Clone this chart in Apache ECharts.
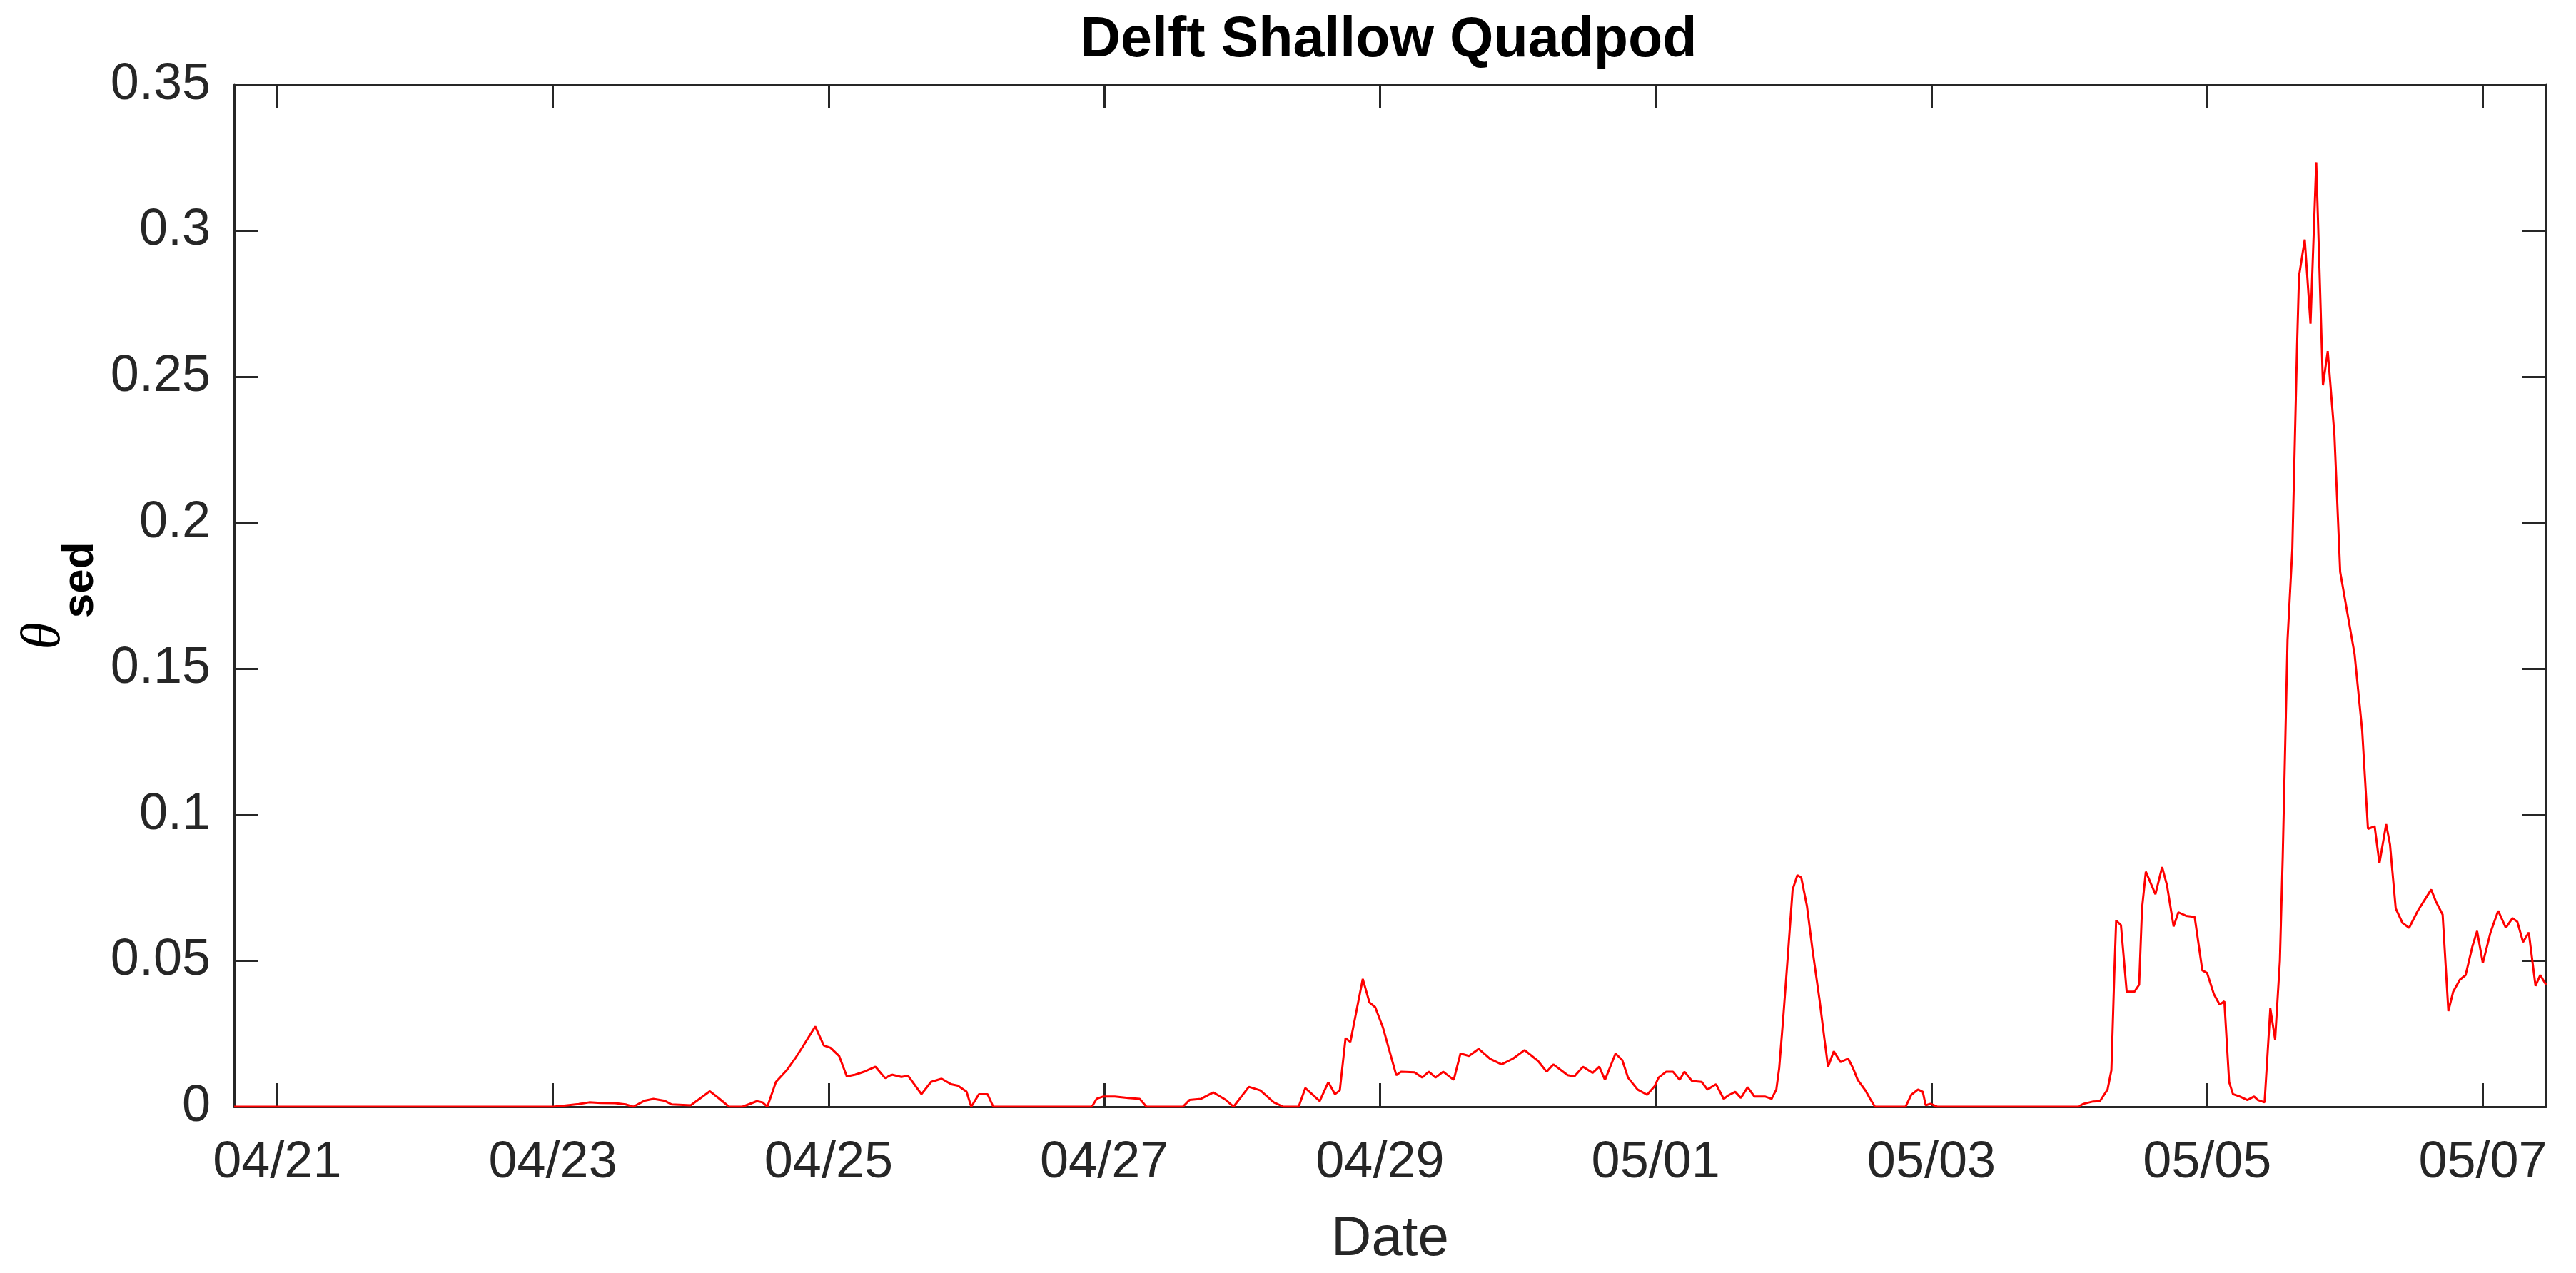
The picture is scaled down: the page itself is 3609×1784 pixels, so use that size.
<!DOCTYPE html>
<html>
<head>
<meta charset="utf-8">
<script src="https://cdn.jsdelivr.net/npm/echarts@6/dist/echarts.min.js"></script>
<style>
  html, body { margin: 0; padding: 0; background: #fff; }
  #chart { width: 3609px; height: 1784px; }
</style>
</head>
<body>
<div id="chart"></div>
<script>
const YEAR = 2019;
const titleText = 'Delft Shallow Quadpod';
const xAxisTitle = 'Date';
const axisStart = '04-20 16:30';
const axisEnd = '05-07 11:00';
const tickDates = ['04-21','04-23','04-25','04-27','04-29','05-01','05-03','05-05','05-07'];
const tickLabels = ['04/21','04/23','04/25','04/27','04/29','05/01','05/03','05/05','05/07'];
const yTicks = [0, 0.05, 0.1, 0.15, 0.2, 0.25, 0.3, 0.35];

const times = [
'04-20 16:30','04-23 00:00','04-23 01:40','04-23 04:30','04-23 06:20','04-23 08:20','04-23 10:50','04-23 12:40','04-23 14:00','04-23 16:00',
'04-23 17:30','04-23 19:30','04-23 20:40','04-24 00:00','04-24 03:20','04-24 04:50','04-24 06:40','04-24 09:00','04-24 11:30','04-24 12:30',
'04-24 13:20','04-24 14:50','04-24 16:40','04-24 18:10','04-24 19:30','04-24 21:40','04-24 23:10','04-25 00:20','04-25 01:50','04-25 03:10',
'04-25 04:40','04-25 06:20','04-25 08:10','04-25 09:50','04-25 11:00','04-25 12:40','04-25 13:50','04-25 16:10','04-25 17:50','04-25 19:40',
'04-25 21:20','04-25 22:30','04-26 00:00','04-26 00:50','04-26 02:10','04-26 03:40','04-26 04:40','04-26 21:50','04-26 22:40','04-26 23:50',
'04-27 01:50','04-27 04:10','04-27 06:10','04-27 07:20','04-27 13:40','04-27 14:50','04-27 16:50','04-27 19:00','04-27 21:10','04-27 22:30',
'04-28 01:10','04-28 03:10','04-28 05:30','04-28 07:10','04-28 09:50','04-28 11:00','04-28 13:30','04-28 15:00','04-28 16:10','04-28 17:00',
'04-28 18:00','04-28 18:50','04-28 21:00','04-28 22:10','04-28 23:10','04-29 00:30','04-29 02:50','04-29 03:40','04-29 06:00','04-29 07:20',
'04-29 08:30','04-29 09:40','04-29 11:00','04-29 12:50','04-29 14:00','04-29 15:30','04-29 17:10','04-29 19:10','04-29 21:10','04-29 23:10',
'04-30 01:10','04-30 03:30','04-30 05:00','04-30 06:10','04-30 08:40','04-30 09:50','04-30 11:20','04-30 13:00','04-30 14:10','04-30 15:10',
'04-30 17:00','04-30 18:10','04-30 19:10','04-30 20:50','04-30 22:30','04-30 23:50','05-01 00:30','05-01 01:50','05-01 03:00','05-01 04:10',
'05-01 05:00','05-01 06:20','05-01 08:00','05-01 09:00','05-01 10:30','05-01 11:50','05-01 12:40','05-01 13:50','05-01 14:50','05-01 16:00',
'05-01 17:10','05-01 19:00','05-01 20:10','05-01 21:00','05-01 21:30','05-01 22:10','05-01 23:00','05-01 23:50','05-02 00:40','05-02 01:20',
'05-02 02:20','05-02 03:20','05-02 04:30','05-02 05:20','05-02 06:00','05-02 07:00','05-02 08:10','05-02 09:30','05-02 10:20','05-02 11:10',
'05-02 12:30','05-02 13:20','05-02 14:10','05-02 19:30','05-02 20:30','05-02 21:40','05-02 22:30','05-02 23:00','05-02 23:50','05-03 01:00',
'05-04 01:30','05-04 02:30','05-04 04:10','05-04 05:20','05-04 06:40','05-04 07:20','05-04 07:50','05-04 08:10','05-04 09:00','05-04 10:00',
'05-04 11:20','05-04 12:10','05-04 12:40','05-04 13:20','05-04 15:00','05-04 16:10','05-04 17:00','05-04 18:10','05-04 19:00','05-04 20:20',
'05-04 21:50','05-04 23:10','05-05 00:00','05-05 01:10','05-05 02:10','05-05 03:00','05-05 03:50','05-05 04:30','05-05 05:40','05-05 07:00',
'05-05 08:10','05-05 08:50','05-05 10:00','05-05 11:00','05-05 11:50','05-05 12:40','05-05 13:10','05-05 14:00','05-05 14:50','05-05 15:40',
'05-05 16:00','05-05 17:00','05-05 18:00','05-05 19:00','05-05 20:10','05-05 21:00','05-05 22:10','05-05 23:10','05-06 01:40','05-06 03:00',
'05-06 04:00','05-06 05:10','05-06 06:00','05-06 07:10','05-06 07:50','05-06 08:50','05-06 10:00','05-06 11:10','05-06 12:40','05-06 15:00',
'05-06 15:50','05-06 17:00','05-06 18:00','05-06 18:50','05-06 20:00','05-06 21:00','05-06 22:10','05-06 23:00','05-07 00:00','05-07 01:20',
'05-07 02:40','05-07 04:00','05-07 05:10','05-07 06:00','05-07 07:00','05-07 08:00','05-07 09:10','05-07 10:00','05-07 11:00'
];

const theta = [
0,0,0.0003,0.0009,0.0015,0.0013,0.0012,0.0008,0,0.0021,
0.0027,0.002,0.0008,0.0005,0.0053,0.003,0,0,0.0019,0.0015,
0,0.0085,0.0124,0.0165,0.0206,0.0275,0.021,0.0202,0.0174,0.0104,
0.011,0.0121,0.0137,0.0098,0.011,0.0102,0.0106,0.0043,0.0085,0.0096,
0.0077,0.0072,0.0052,0,0.0043,0.0043,0,0,0.0027,0.0035,
0.0035,0.003,0.0027,0,0,0.0023,0.0027,0.0049,0.0023,0,
0.0068,0.0056,0.0015,0,0,0.0064,0.0019,0.0084,0.0043,0.0056,
0.0235,0.0222,0.0438,0.0357,0.0341,0.0272,0.0108,0.012,0.0118,0.01,
0.012,0.01,0.012,0.0092,0.0182,0.0174,0.0198,0.0164,0.0145,0.0165,
0.0194,0.0157,0.012,0.0145,0.0108,0.0104,0.0137,0.0116,0.0137,0.0092,
0.0182,0.016,0.01,0.0059,0.0041,0.0071,0.01,0.012,0.012,0.0092,
0.012,0.0088,0.0085,0.0059,0.0077,0.0027,0.0039,0.0051,0.003,0.0067,
0.0035,0.0035,0.0027,0.0059,0.0133,0.0296,0.0516,0.0744,0.0793,0.0785,
0.0687,0.0532,0.0369,0.0238,0.0137,0.019,0.0153,0.0165,0.0133,0.0092,
0.0056,0.0027,0,0,0.0041,0.0059,0.0051,0.0005,0.001,0,
0,0.001,0.0018,0.0019,0.0059,0.0125,0.045,0.0638,0.0622,0.0394,
0.0394,0.0418,0.0679,0.0805,0.0728,0.0821,0.076,0.0618,0.0666,0.0654,
0.065,0.0467,0.0458,0.0386,0.035,0.0361,0.0084,0.0043,0.0035,0.0023,
0.0035,0.0023,0.0015,0.0337,0.023,0.05,0.0858,0.1598,0.191,0.2611,
0.2845,0.297,0.2682,0.3235,0.2471,0.2588,0.23,0.1832,0.1551,0.1287,
0.0952,0.096,0.0834,0.0968,0.0899,0.0679,0.063,0.0613,0.0671,0.0744,
0.0703,0.0658,0.0328,0.0394,0.0435,0.0451,0.0548,0.0602,0.0492,0.0597,
0.0671,0.0613,0.0646,0.0634,0.0564,0.0597,0.0414,0.0451,0.0418
];

function toTime(s) {
  const parts = s.split(' ');
  const md = parts[0].split('-').map(Number);
  const hm = (parts[1] || '00:00').split(':').map(Number);
  return new Date(YEAR, md[0] - 1, md[1], hm[0], hm[1]).getTime();
}

const seriesData = times.map((t, i) => [toTime(t), theta[i]]);
const tickValues = tickDates.map(toTime);
const xMin = toTime(axisStart);
const xMax = toTime(axisEnd);

const axisColor = '#262626';
const tickFont = { fontFamily: 'Liberation Sans, Arial, sans-serif', fontSize: 72, color: axisColor };

function xLabel(v) {
  let best = 0, bd = Infinity;
  tickValues.forEach((tv, i) => { const d = Math.abs(tv - v); if (d < bd) { bd = d; best = i; } });
  return bd < 3600000 ? tickLabels[best] : '';
}

const chart = echarts.init(document.getElementById('chart'), null, { renderer: 'canvas' });
chart.setOption({
  animation: false,
  backgroundColor: '#ffffff',
  title: {
    text: titleText,
    left: 1513,
    top: 18,
    padding: 0,
    textStyle: { fontFamily: 'Liberation Sans, Arial, sans-serif', fontWeight: 'bold', fontSize: 79, color: '#000000' }
  },
  grid: { left: 328, right: 42, top: 119, bottom: 233, containLabel: false },
  xAxis: [
    {
      type: 'value', position: 'bottom', min: xMin, max: xMax, scale: true,
      name: xAxisTitle, nameLocation: 'middle', nameGap: 147,
      nameTextStyle: { fontFamily: 'Liberation Sans, Arial, sans-serif', fontSize: 78, color: axisColor },
      axisLine: { show: true, onZero: false, lineStyle: { color: axisColor, width: 3 } },
      axisTick: { show: true, inside: true, length: 33, customValues: tickValues, lineStyle: { color: axisColor, width: 3 } },
      axisLabel: Object.assign({ show: true, margin: 43, customValues: tickValues, formatter: xLabel, hideOverlap: false }, tickFont),
      splitLine: { show: false }
    },
    {
      type: 'value', position: 'top', min: xMin, max: xMax, scale: true,
      axisLine: { show: true, onZero: false, lineStyle: { color: axisColor, width: 3 } },
      axisTick: { show: true, inside: true, length: 33, customValues: tickValues, lineStyle: { color: axisColor, width: 3 } },
      axisLabel: { show: false },
      splitLine: { show: false }
    }
  ],
  yAxis: [
    {
      type: 'value', position: 'left', min: 0, max: 0.35, interval: 0.05,
      name: '{th|θ}{sub|sed}', nameLocation: 'middle', nameRotate: 90, nameGap: 222,
      nameTextStyle: {
        color: '#000000',
        rich: {
          th: { fontFamily: 'Liberation Serif, DejaVu Serif, serif', fontStyle: 'italic', fontSize: 78, lineHeight: 80, verticalAlign: 'top', color: '#000000' },
          sub: { fontFamily: 'Liberation Sans, Arial, sans-serif', fontWeight: 'bold', fontSize: 62, lineHeight: 62, padding: [58, 0, 0, 6], verticalAlign: 'top', color: '#000000' }
        }
      },
      axisLine: { show: true, onZero: false, lineStyle: { color: axisColor, width: 3 } },
      axisTick: { show: true, inside: true, length: 33, lineStyle: { color: axisColor, width: 3 } },
      axisLabel: Object.assign({ show: true, margin: 33, formatter: v => String(Math.round(v * 100) / 100) }, tickFont),
      splitLine: { show: false }
    },
    {
      type: 'value', position: 'right', min: 0, max: 0.35, interval: 0.05,
      axisLine: { show: true, onZero: false, lineStyle: { color: axisColor, width: 3 } },
      axisTick: { show: true, inside: true, length: 33, lineStyle: { color: axisColor, width: 3 } },
      axisLabel: { show: false },
      splitLine: { show: false }
    }
  ],
  series: [
    {
      type: 'line', xAxisIndex: 0, yAxisIndex: 0,
      data: seriesData,
      showSymbol: false, symbol: 'none',
      lineStyle: { color: '#ff0000', width: 3 },
      clip: true, z: 1
    }
  ]
});
</script>
</body>
</html>
